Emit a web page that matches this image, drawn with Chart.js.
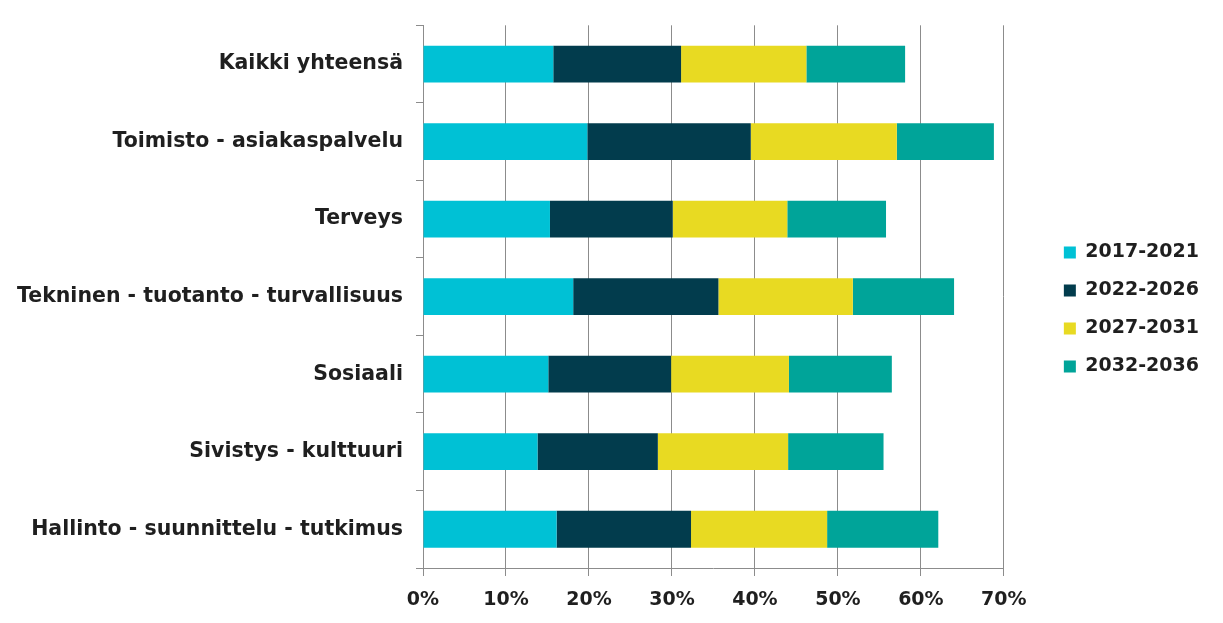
<!DOCTYPE html>
<html lang="fi">
<head>
    <meta charset="UTF-8">
    <title>Eläköityminen</title>
    <script src="https://cdn.jsdelivr.net/npm/chart.js"></script>
    <style>
        body {
            margin: 0;
            padding: 0;
            background: #ffffff;
        }
        #wrap {
            width: 1223px;
            height: 623px;
        }
    </style>
</head>
<body>
    <div id="wrap">
        <canvas id="chart" width="1223" height="623"></canvas>
    </div>

    <script>
        const categories = [
            'Kaikki yhteensä',
            'Toimisto - asiakaspalvelu',
            'Terveys',
            'Tekninen - tuotanto - turvallisuus',
            'Sosiaali',
            'Sivistys - kulttuuri',
            'Hallinto - suunnittelu - tutkimus'
        ];
        const periods = ['2017-2021', '2022-2026', '2027-2031', '2032-2036'];
        const colors = ['#00c1d5', '#023c4d', '#e8da22', '#00a499'];

        // share of staff retiring in each period, %
        const p2017 = [15.7, 19.8, 15.3, 18.1, 15.1, 13.8, 16.1];
        const p2022 = [15.4, 19.7, 14.8, 17.5, 14.8, 14.5, 16.2];
        const p2027 = [15.1, 17.6, 13.8, 16.2, 14.2, 15.7, 16.4];
        const p2032 = [11.9, 11.7, 11.9, 12.2, 12.4, 11.5, 13.4];
        const xTicks = [0, 10, 20, 30, 40, 50, 60, 70];

        const series = [p2017, p2022, p2027, p2032];

        const font = "'DejaVu Sans', Verdana, sans-serif";
        const textColor = '#1f1f1f';
        const lineColor = '#8c8c8c';

        const ctx = document.getElementById('chart').getContext('2d');
        new Chart(ctx, {
            type: 'bar',
            data: {
                labels: categories,
                datasets: series.map((d, i) => ({
                    label: periods[i],
                    data: d,
                    backgroundColor: colors[i],
                    borderWidth: 0,
                    barPercentage: 0.475,
                    categoryPercentage: 1
                }))
            },
            options: {
                indexAxis: 'y',
                responsive: false,
                animation: false,
                layout: {
                    padding: { top: 22, right: 14, bottom: 0, left: 0 }
                },
                plugins: {
                    tooltip: { enabled: false },
                    legend: {
                        position: 'right',
                        align: 'start',
                        // blank title only pushes the items down to sit beside the middle bars
                        title: {
                            display: true,
                            text: ' ',
                            padding: { top: 0, bottom: 190 },
                            font: { family: font, size: 10 }
                        },
                        labels: {
                            boxWidth: 12,
                            boxHeight: 12,
                            padding: 19,
                            color: textColor,
                            font: { family: font, size: 19, weight: 'bold' }
                        }
                    }
                },
                scales: {
                    x: {
                        stacked: true,
                        min: 0,
                        max: 70,
                        afterBuildTicks: axis => {
                            axis.ticks = xTicks.map(v => ({ value: v }));
                        },
                        afterFit: axis => {
                            axis.height = 55;
                        },
                        grid: {
                            color: lineColor,
                            lineWidth: 1,
                            tickLength: 8,
                            tickColor: lineColor
                        },
                        border: { color: lineColor, width: 1 },
                        ticks: {
                            color: textColor,
                            padding: 13,
                            maxRotation: 0,
                            font: { family: font, size: 19, weight: 'bold' },
                            callback: v => v + '%'
                        }
                    },
                    y: {
                        stacked: true,
                        afterFit: axis => {
                            axis.width = 423;
                        },
                        grid: {
                            offset: true,
                            drawOnChartArea: false,
                            tickLength: 7,
                            tickColor: lineColor
                        },
                        border: { color: lineColor, width: 1 },
                        ticks: {
                            color: textColor,
                            padding: 13,
                            font: { family: font, size: 20.5, weight: 'bold' }
                        }
                    },
                    // empty spacer between the plot and the legend
                    gap: {
                        type: 'linear',
                        axis: 'y',
                        position: 'right',
                        afterFit: axis => {
                            axis.width = 41;
                        },
                        grid: { display: false },
                        border: { display: false },
                        ticks: { display: false }
                    }
                }
            }
        });
    </script>
</body>
</html>
